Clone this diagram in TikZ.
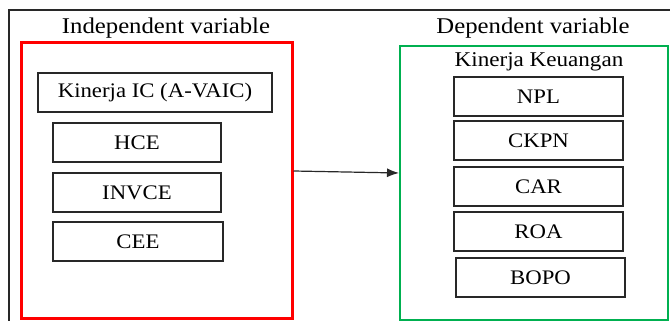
\documentclass[tikz,border=0pt]{standalone}
\usepackage{fontspec}
\setmainfont[FakeStretch=1.1]{Liberation Serif}
\usetikzlibrary{arrows.meta}
\definecolor{boxgray}{RGB}{40,40,40}
\definecolor{wgreen}{RGB}{0,176,80}
\definecolor{wred}{RGB}{255,0,0}
\begin{document}
\begin{tikzpicture}[x=1pt,y=-1pt,
  varbox/.style={draw=boxgray,line width=1.4pt,inner sep=0pt,minimum height=39pt,font=\fontsize{20.7}{24}\selectfont},
  title/.style={inner sep=0pt,font=\fontsize{22.5}{26}\selectfont},
  subtitle/.style={inner sep=0pt,font=\fontsize{21}{24}\selectfont},
  group/.style={inner sep=0pt}]
\useasboundingbox (0,0) rectangle (670,321);
\draw[boxgray,line width=1.3pt] (9,321) -- (9,10) -- (670,10);
\node[group,draw=wred,line width=3pt,minimum width=271pt,minimum height=275pt] (indep) at (156.5,180.5) {};
\node[group,draw=wgreen,line width=2pt,minimum width=268pt,minimum height=274pt] (dep) at (534,183) {};
\node[title] (indt) at (166,28) {Independent variable};
\node[title] (dept) at (533,28) {Dependent variable};
\node[subtitle] (kk) at (539,62) {Kinerja Keuangan};
\node[varbox,minimum width=234pt] (ic) at (155,92.5) {Kinerja IC (A-VAIC)};
\node[varbox,minimum width=168pt] (hce) at (137,142.5) {HCE};
\node[varbox,minimum width=168pt] (invce) at (137,192.5) {INVCE};
\node[varbox,minimum width=170pt] (cee) at (138,241.5) {CEE};
\node[varbox,minimum width=169pt] (npl) at (538.5,96.5) {NPL};
\node[varbox,minimum width=169pt] (ckpn) at (538.5,140.5) {CKPN};
\node[varbox,minimum width=169pt] (car) at (538.5,186.5) {CAR};
\node[varbox,minimum width=169pt] (roa) at (538.5,231.5) {ROA};
\node[varbox,minimum width=169pt] (bopo) at (540.5,277.5) {BOPO};
\draw[boxgray,line width=1.2pt,-{Latex[length=12pt,width=9pt]}] ([yshift=9.5pt]indep.east) -- ([yshift=10pt]dep.west);
\end{tikzpicture}
\end{document}
